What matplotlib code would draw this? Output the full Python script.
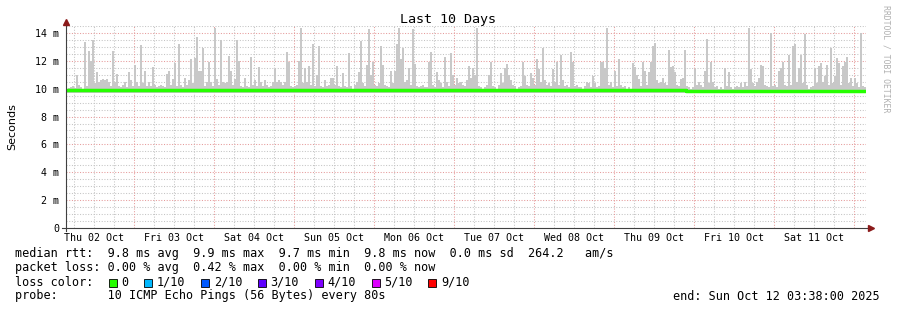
import numpy as np
import matplotlib
matplotlib.use('Agg')
import matplotlib.pyplot as plt
from matplotlib.patches import Rectangle

W, H = 897, 310
MONO = 'DejaVu Sans Mono'

# time axis: hours since Thu 02 Oct 00:00, window ends Sun 12 Oct 03:38
start_h = 3 + 38 / 60.0
span_h = 240.0
step_h = 0.6   # one smoke column = 36 min

# top of the smoke (max rtt, ms) per column
smoke_max = [
    10.0, 10.05, 10.1, 10.2, 10.05, 11.0, 10.3, 10.15, 10.0, 13.35, 10.2, 12.7, 12.0, 13.5, 10.4, 11.2, 10.5, 10.6, 10.7, 10.6,
    10.7, 10.5, 10.2, 12.7, 10.5, 11.05, 10.2, 10.1, 10.3, 10.5, 10.1, 11.2, 10.6, 10.2, 11.7, 10.5, 10.2, 13.15, 10.4, 11.3,
    10.2, 10.5, 10.2, 11.55, 10.3, 10.1, 10.2, 10.25, 10.2, 10.1, 11.05, 11.25, 10.3, 10.7, 11.85, 10.2, 13.2, 10.3, 10.1, 10.8,
    10.3, 10.6, 12.1, 10.4, 12.2, 13.7, 11.3, 11.25, 12.9, 10.2, 10.5, 11.9, 10.5, 10.2, 14.36, 10.7, 10.3, 13.47, 10.5, 10.4,
    10.5, 12.35, 11.25, 10.3, 10.7, 13.47, 12.0, 10.2, 10.1, 10.8, 10.2, 10.1, 12.27, 10.3, 10.6, 10.2, 11.55, 10.5, 10.2, 10.6,
    10.3, 10.1, 10.2, 10.5, 11.4, 10.5, 10.6, 10.5, 10.3, 10.5, 12.6, 11.9, 10.2, 10.1, 10.2, 10.3, 12.0, 14.36, 10.4, 11.5,
    10.5, 11.6, 10.3, 13.2, 10.2, 10.95, 13.05, 10.2, 10.1, 10.6, 10.2, 10.3, 10.8, 10.8, 10.3, 11.6, 10.2, 10.1, 11.1, 10.2,
    10.1, 12.55, 10.2, 10.0, 10.3, 10.5, 11.2, 13.4, 10.4, 10.2, 11.7, 14.3, 10.95, 11.9, 10.3, 10.2, 10.4, 13.05, 11.7, 10.3,
    10.2, 10.1, 11.3, 10.4, 11.3, 13.2, 14.36, 12.1, 12.9, 10.5, 10.6, 11.5, 10.3, 14.3, 11.8, 10.2, 10.1, 10.2, 10.3, 10.1,
    10.1, 11.9, 12.6, 10.3, 10.1, 11.2, 10.6, 10.4, 10.1, 12.27, 10.5, 10.2, 12.55, 11.0, 10.3, 10.8, 10.4, 10.5, 10.3, 10.2,
    10.6, 11.6, 10.8, 11.5, 11.0, 14.36, 10.2, 10.1, 10.0, 10.1, 10.3, 10.95, 11.9, 10.2, 10.1, 10.0, 10.3, 11.1, 10.4, 11.5,
    11.8, 11.0, 10.6, 10.3, 10.2, 10.0, 10.1, 10.2, 11.9, 10.9, 10.3, 10.2, 11.1, 10.8, 10.3, 12.15, 11.4, 10.5, 12.9, 10.6,
    10.3, 10.4, 10.2, 11.4, 10.5, 11.9, 10.3, 12.4, 10.6, 10.2, 10.3, 10.1, 12.6, 11.9, 10.2, 10.3, 10.1, 10.1, 10.0, 10.2,
    10.5, 10.4, 10.1, 10.9, 10.4, 10.1, 10.2, 11.9, 11.9, 11.5, 14.36, 10.3, 10.5, 10.1, 11.25, 10.2, 12.15, 10.3, 10.1, 10.2,
    10.0, 10.1, 10.0, 11.85, 11.55, 10.95, 10.7, 10.2, 11.9, 11.3, 10.3, 11.2, 11.95, 13.05, 13.3, 10.6, 10.4, 10.5, 10.8, 10.4,
    10.3, 12.75, 11.55, 11.6, 11.2, 10.3, 10.2, 10.7, 10.8, 12.8, 10.2, 10.1, 10.0, 10.1, 11.4, 10.3, 10.5, 10.3, 10.1, 11.3,
    13.55, 10.4, 11.9, 10.5, 10.1, 10.2, 10.0, 10.1, 10.0, 11.5, 10.2, 11.2, 10.1, 10.0, 10.1, 10.2, 10.1, 10.4, 10.1, 10.5,
    10.2, 14.36, 11.4, 10.4, 10.2, 10.5, 10.8, 11.7, 11.6, 10.3, 10.2, 10.1, 14.0, 10.2, 10.3, 10.1, 11.3, 11.5, 11.9, 10.3,
    10.2, 12.4, 10.3, 13.05, 13.2, 10.5, 11.5, 12.4, 10.4, 13.9, 10.3, 10.0, 10.1, 10.2, 11.5, 10.4, 11.6, 11.85, 10.5, 10.9,
    11.7, 10.3, 12.9, 10.4, 10.9, 12.2, 11.85, 10.3, 11.6, 11.9, 12.3, 10.4, 10.8, 10.2, 10.8, 10.4, 10.1, 14.0, 10.2, 10.1,
]
smoke_min = 9.72

# median rtt (ms), one value per 6 hours
median_6h = [9.88, 9.88, 9.88, 9.88, 9.88, 9.88, 9.88, 9.88, 9.88, 9.88,
             9.88, 9.88, 9.88, 9.88, 9.88, 9.88, 9.88, 9.88, 9.88, 9.88,
             9.88, 9.88, 9.88, 9.88, 9.88, 9.88, 9.88, 9.88, 9.88, 9.88,
             9.88, 9.80, 9.80, 9.80, 9.80, 9.80, 9.80, 9.80, 9.80, 9.80]

day_labels = ['Thu 02 Oct', 'Fri 03 Oct', 'Sat 04 Oct', 'Sun 05 Oct', 'Mon 06 Oct',
              'Tue 07 Oct', 'Wed 08 Oct', 'Thu 09 Oct', 'Fri 10 Oct', 'Sat 11 Oct']
y_ticks = [0, 2, 4, 6, 8, 10, 12, 14]
y_labels = ['0', '2 m', '4 m', '6 m', '8 m', '10 m', '12 m', '14 m']

loss_labels = ['0', '1/10', '2/10', '3/10', '4/10', '5/10', '9/10']
loss_colors = ['#26ff00', '#00b8ff', '#0059ff', '#5e00ff', '#7e00ff', '#dd00ff', '#ff0000']

legend_lines = [
    'median rtt:  9.8 ms avg  9.9 ms max  9.7 ms min  9.8 ms now  0.0 ms sd  264.2   am/s',
    'packet loss: 0.00 % avg  0.42 % max  0.00 % min  0.00 % now',
]
probe_line = 'probe:       10 ICMP Echo Pings (56 Bytes) every 80s'
end_line = 'end: Sun Oct 12 03:38:00 2025'

fig = plt.figure(figsize=(W / 100, H / 100), dpi=100)
fig.patch.set_facecolor('white')
ax = fig.add_axes([66 / W, (H - 228) / H, 800 / W, 202 / H])
ax.set_xlim(start_h, start_h + span_h)
ax.set_ylim(0, 14.5)
for s in ax.spines.values():
    s.set_visible(False)

# grid
for h in np.arange(6, 250, 6):
    if h % 24 == 0:
        continue
    ax.axvline(h, color='#c4c4c4', lw=0.75, ls=(0, (1, 1.6)), zorder=1)
for v in np.arange(0.5, 14.6, 0.5):
    if v % 2 == 0:
        continue
    ax.axhline(v, color='#c4c4c4', lw=0.75, ls=(0, (1, 1.6)), zorder=1)
for h in np.arange(24, 250, 24):
    ax.axvline(h, color='#e59a9a', lw=0.75, ls=(0, (1, 1.6)), zorder=1.5)
for v in y_ticks[1:]:
    ax.axhline(v, color='#e59a9a', lw=0.75, ls=(0, (1, 1.6)), zorder=1.5)

# smoke
n = len(smoke_max)
x_left = start_h + step_h * np.arange(n)
tops = np.array(smoke_max)
ax.bar(x_left, tops - smoke_min, bottom=smoke_min, width=step_h, align='edge',
       color='#c8c8c8', linewidth=0, zorder=2)

# median line
med = np.repeat(median_6h, 10)
xe = start_h + step_h * np.arange(n + 1)
ax.step(xe, np.append(med, med[-1]), where='post', color='#26ff00', lw=2.5,
        solid_capstyle='butt', zorder=3)

# axes lines with arrows
ax.plot([-0.005, 1.004], [0, 0], transform=ax.transAxes, color='#404040', lw=0.8,
        clip_on=False, zorder=4)
ax.plot([0, 0], [-0.015, 1.0], transform=ax.transAxes, color='#404040', lw=0.8,
        clip_on=False, zorder=4)
ax.plot([0], [1.02], transform=ax.transAxes, marker='^', ms=4.5, color='#8b1a1a',
        clip_on=False, zorder=5)
ax.plot([1.006], [0], transform=ax.transAxes, marker='>', ms=4.5, color='#8b1a1a',
        clip_on=False, zorder=5)

# tick labels
ax.set_yticks(y_ticks)
ax.set_yticklabels(y_labels, family=MONO, fontsize=7.2)
ax.set_xticks([12 + 24 * k for k in range(len(day_labels))])
ax.set_xticklabels(day_labels, family=MONO, fontsize=7.2)
ax.tick_params(axis='y', length=0, pad=5)
ax.tick_params(axis='x', length=0, pad=3.5)

ax.set_ylabel('Seconds', family='DejaVu Sans', fontsize=8, labelpad=13)
fig.text(448 / W, 1 - 19 / H, 'Last 10 Days', family=MONO, fontsize=9.6,
         ha='center', va='center')
fig.text(886 / W, 1 - 59 / H, 'RRDTOOL / TOBI OETIKER', family=MONO, fontsize=5.9,
         rotation=270, ha='center', va='center', color='#b0b0b0')

# legend block
cw = 7.1
x0 = 15
for i, line in enumerate(legend_lines):
    fig.text(x0 / W, 1 - (254 + 14 * i) / H, line, family=MONO, fontsize=8.5,
             ha='left', va='center')
fig.text(x0 / W, 1 - 282 / H, 'loss color:', family=MONO, fontsize=8.5,
         ha='left', va='center')
col = 13
for lab, c in zip(loss_labels, loss_colors):
    sx = x0 + col * cw + 1.5
    fig.patches.append(Rectangle((sx / W, 1 - 286.5 / H), 8 / W, 8 / H,
                                 transform=fig.transFigure, facecolor=c,
                                 edgecolor='black', linewidth=0.6))
    fig.text((x0 + (col + 2) * cw) / W, 1 - 282 / H, lab, family=MONO, fontsize=8.5,
             ha='left', va='center')
    col += 2 + len(lab) + 2
fig.text(x0 / W, 1 - 296 / H, probe_line, family=MONO, fontsize=8.5,
         ha='left', va='center')
fig.text(880 / W, 1 - 296 / H, end_line, family=MONO, fontsize=8.5,
         ha='right', va='center')

fig.savefig('out.png', dpi=100, facecolor='white')
